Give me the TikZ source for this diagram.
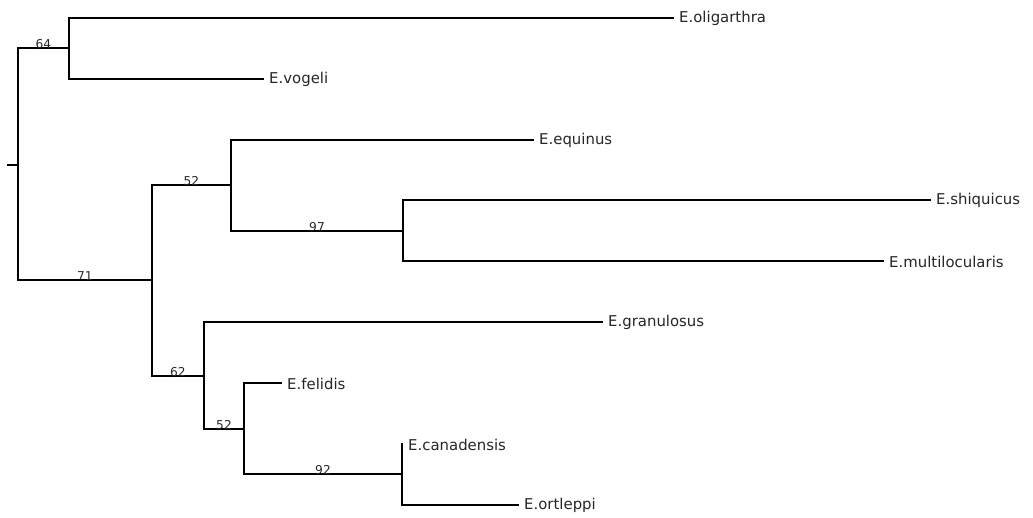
\documentclass[tikz,border=0pt]{standalone}
\usepackage{fontspec}
\setmainfont{DejaVu Sans}
\usetikzlibrary{calc}
\begin{document}
\begin{tikzpicture}[x=1pt,y=-1pt,
  br/.style={line width=2pt,line cap=rect},
  taxon/.style={anchor=west,inner sep=0pt,font=\fontsize{14.9}{16}\selectfont,xshift=6pt,yshift=-0.5pt,text=black!85},
  supp/.style={anchor=base,inner sep=0pt,font=\fontsize{12.2}{13}\selectfont,yshift=-0.5pt,text=black!85}]
\useasboundingbox (0,0) rectangle (1033,517);
% internal coordinates
\coordinate (r0) at (8,165);
\coordinate (rm) at (18,165);
\coordinate (rt) at (18,48);
\coordinate (rb) at (18,280);
\coordinate (A) at (69,48);
\coordinate (At) at (69,18);
\coordinate (Ab) at (69,79);
\coordinate (B) at (152,280);
\coordinate (Bt) at (152,185);
\coordinate (Bb) at (152,376);
\coordinate (C) at (231,185);
\coordinate (Ct) at (231,140);
\coordinate (Cb) at (231,231);
\coordinate (D) at (403,231);
\coordinate (Dt) at (403,200);
\coordinate (Db) at (403,261);
\coordinate (E) at (204,376);
\coordinate (Et) at (204,322);
\coordinate (Eb) at (204,429);
\coordinate (F) at (244,429);
\coordinate (Ft) at (244,383);
\coordinate (Fb) at (244,474);
\coordinate (G) at (402,474);
\coordinate (Gt) at (402,444);
\coordinate (Gb) at (402,505);
% tips
\coordinate (oli) at (673,18);
\coordinate (vog) at (263,79);
\coordinate (equ) at (533,140);
\coordinate (shi) at (930,200);
\coordinate (mul) at (883,261);
\coordinate (gra) at (602,322);
\coordinate (fel) at (281,383);
\coordinate (can) at (402,444);
\coordinate (ort) at (518,505);
% branches
\draw[br] (r0) -- (rm);
\draw[br] (rt) -- (rb);
\draw[br] (rt) -- (A);
\draw[br] (At) -- (Ab);
\draw[br] (At) -- (oli);
\draw[br] (Ab) -- (vog);
\draw[br] (rb) -- (B);
\draw[br] (Bt) -- (Bb);
\draw[br] (Bt) -- (C);
\draw[br] (Ct) -- (Cb);
\draw[br] (Ct) -- (equ);
\draw[br] (Cb) -- (D);
\draw[br] (Dt) -- (Db);
\draw[br] (Dt) -- (shi);
\draw[br] (Db) -- (mul);
\draw[br] (Bb) -- (E);
\draw[br] (Et) -- (Eb);
\draw[br] (Et) -- (gra);
\draw[br] (Eb) -- (F);
\draw[br] (Ft) -- (Fb);
\draw[br] (Ft) -- (fel);
\draw[br] (Fb) -- (G);
\draw[br] (Gt) -- (Gb);
\draw[br] (Gb) -- (ort);
% taxa labels
\node[taxon] (Loli) at (oli) {E.oligarthra};
\node[taxon] (Lvog) at (vog) {E.vogeli};
\node[taxon] (Lequ) at (equ) {E.equinus};
\node[taxon] (Lshi) at (shi) {E.shiquicus};
\node[taxon] (Lmul) at (mul) {E.multilocularis};
\node[taxon] (Lgra) at (gra) {E.granulosus};
\node[taxon] (Lfel) at (fel) {E.felidis};
\node[taxon] (Lcan) at (can) {E.canadensis};
\node[taxon] (Lort) at (ort) {E.ortleppi};
% support values
\node[supp] (s64) at ($(rt)!0.5!(A)$) {64};
\node[supp] (s71) at ($(rb)!0.5!(B)$) {71};
\node[supp] (s52a) at ($(Bt)!0.5!(C)$) {52};
\node[supp] (s97) at ($(Cb)!0.5!(D)$) {97};
\node[supp] (s62) at ($(Bb)!0.5!(E)$) {62};
\node[supp] (s52b) at ($(Eb)!0.5!(F)$) {52};
\node[supp] (s92) at ($(Fb)!0.5!(G)$) {92};
\end{tikzpicture}
\end{document}
